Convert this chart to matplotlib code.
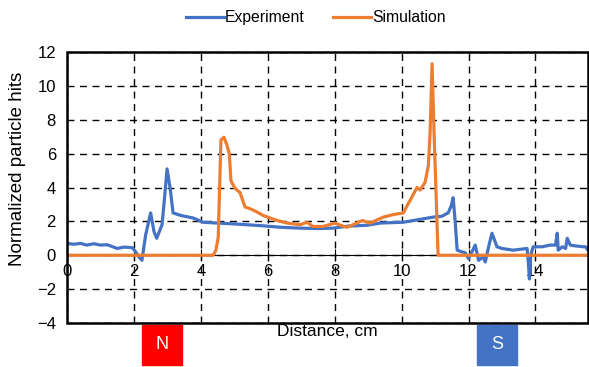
import matplotlib
matplotlib.use("Agg")
import matplotlib.pyplot as plt
import matplotlib.transforms as mtransforms
from matplotlib.patches import Rectangle

plt.rcParams['font.family'] = ['Liberation Sans', 'DejaVu Sans']

# experiment curve (distance in cm, normalized hits)
exp_x = [0, 0.2, 0.4, 0.6, 0.8, 1.0, 1.2, 1.3, 1.5, 1.7, 1.95, 2.05, 2.15, 2.24,
         2.35, 2.5, 2.6, 2.68, 2.84, 2.92, 2.99, 3.08, 3.17, 3.4, 3.77, 4.07,
         4.48, 5.0, 5.77, 6.4, 6.97, 7.5, 7.95, 8.4, 8.97, 9.36, 10.05, 10.5,
         10.94, 11.2, 11.39, 11.48, 11.54, 11.6, 11.66, 11.8, 11.9, 12.0, 12.1,
         12.2, 12.3, 12.44, 12.5, 12.6, 12.7, 12.85, 13.0, 13.33, 13.75, 13.79,
         13.82, 13.86, 13.93, 14.2, 14.44, 14.6, 14.65, 14.68, 14.8, 14.9, 14.95,
         15.04, 15.2, 15.43, 15.5, 15.57]
exp_y = [0.7, 0.65, 0.7, 0.6, 0.68, 0.6, 0.62, 0.55, 0.4, 0.48, 0.45, 0.2, -0.1,
         -0.3, 1.2, 2.5, 1.4, 1.0, 1.8, 3.5, 5.1, 4.0, 2.5, 2.35, 2.2, 1.95, 1.9,
         1.85, 1.75, 1.65, 1.6, 1.58, 1.6, 1.72, 1.77, 1.9, 1.95, 2.1, 2.25, 2.3,
         2.5, 2.9, 3.4, 2.0, 0.3, 0.2, 0.15, -0.2, 0.2, 0.6, -0.3, -0.1, -0.4,
         0.5, 1.3, 0.5, 0.4, 0.3, 0.4, -0.5, -1.4, 0.0, 0.5, 0.5, 0.6, 0.6, 1.3,
         0.3, 0.5, 0.4, 1.0, 0.6, 0.55, 0.5, 0.5, 0.3]

# simulation curve
sim_x = [0, 4.37, 4.45, 4.52, 4.6, 4.69, 4.78, 4.85, 4.9, 5.02, 5.17, 5.32, 5.47,
         5.68, 5.86, 6.07, 6.28, 6.58, 6.97, 7.17, 7.35, 7.65, 8.01, 8.2, 8.37,
         8.6, 8.82, 9.06, 9.45, 9.75, 10.05, 10.2, 10.46, 10.55, 10.7, 10.8,
         10.85, 10.91, 10.97, 11.09, 15.57]
sim_y = [0, 0, 0.3, 1.06, 6.8, 6.97, 6.5, 6.0, 4.4, 3.95, 3.7, 2.85, 2.75, 2.55,
         2.35, 2.2, 2.05, 1.9, 1.8, 1.95, 1.7, 1.7, 1.9, 1.75, 1.65, 1.85, 2.05,
         1.9, 2.25, 2.4, 2.5, 3.05, 4.0, 3.85, 4.3, 5.3, 7.2, 11.3, 7.2, 0, 0]

# magnet labels
magnets = ["N", "S"]
magnet_start = [2.24, 12.26]
magnet_colors = ["#FF0000", "#4472C4"]

fig = plt.figure(figsize=(5.89, 3.67), dpi=100)
ax = fig.add_axes([67/589, 44/367, 521/589, 271/367])

ax.plot(exp_x, exp_y, color="#4472C4", lw=2.3, label="Experiment", zorder=3)
ax.plot(sim_x, sim_y, color="#ED7D31", lw=2.3, label="Simulation", zorder=4)

ax.set_xlim(0, 15.57)
ax.set_ylim(-4, 12)
ax.set_xticks(range(0, 15, 2))
ax.set_yticks(range(-4, 13, 2))

ax.grid(True, color="black", ls=(0, (5, 4)), lw=1.0, zorder=1)

# bottom spine through zero, frame drawn separately
for s in ["top", "right", "left"]:
    ax.spines[s].set_visible(False)
ax.spines["bottom"].set_position(("data", 0))
ax.spines["bottom"].set_linewidth(0.8)
ax.add_patch(Rectangle((0, 0), 1, 1, transform=ax.transAxes, fill=False,
                       ec="black", lw=1.8, clip_on=False, zorder=5))

ax.tick_params(axis="x", direction="inout", length=8, width=0.8, pad=2.5, labelsize=12)
ax.tick_params(axis="y", length=0, pad=8, labelsize=12)

ax.set_ylabel("Normalized particle hits", fontsize=13.5)
ax.yaxis.set_label_coords(-0.078, 0.57)
ax.set_xlabel("Distance, cm", fontsize=12.5)
ax.xaxis.set_label_coords(0.5, -0.005)
ax.xaxis.label.set_va("top")

trans = mtransforms.blended_transform_factory(ax.transData, ax.transAxes)
for name, x0, c in zip(magnets, magnet_start, magnet_colors):
    ax.add_patch(Rectangle((x0, -0.155), 1.2, 0.148, transform=trans,
                           color=c, clip_on=False))
    ax.text(x0 + 0.6, -0.081, name, transform=trans, color="white",
            ha="center", va="center", fontsize=13)

fig.legend(loc="upper center", bbox_to_anchor=(316/589, 1.01), ncol=2,
           frameon=False, fontsize=11.3, handlelength=2.4, columnspacing=1.8,
           handletextpad=0.1)

fig.savefig("out.png", dpi=100)
